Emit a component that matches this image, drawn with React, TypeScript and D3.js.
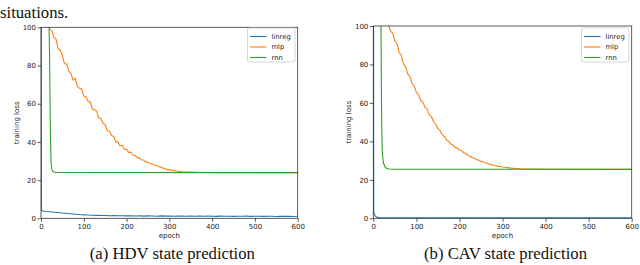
import React, { useEffect, useRef } from 'react';
import * as d3 from 'd3';

// ---- data (epoch, training loss) ----
const seriesNames = ['linreg', 'mlp', 'rnn'];
const seriesColors = ['#1f77b4', '#ff7f0e', '#2ca02c'];
const xTicks = [0, 100, 200, 300, 400, 500, 600];
const yTicks = [0, 20, 40, 60, 80, 100];

// (a) HDV
const hdvLinreg: [number, number][] = [
  [0, 260], [1, 4.3], [3, 3.9], [5, 3.8], [10, 3.6], [20, 3.4], [30, 3.2], [40, 3.0], [50, 2.75],
  [60, 2.55], [70, 2.35], [80, 2.15], [90, 1.95], [100, 1.8], [110, 1.75], [120, 1.6], [130, 1.55],
  [140, 1.45], [150, 1.5], [160, 1.35], [170, 1.4], [180, 1.3], [190, 1.35], [200, 1.25], [210, 1.3],
  [220, 1.2], [230, 1.3], [240, 1.15], [250, 1.25], [260, 1.2], [270, 1.1], [280, 1.25], [290, 1.15],
  [300, 1.2], [310, 1.1], [320, 1.2], [330, 1.15], [340, 1.05], [350, 1.2], [360, 1.1], [370, 1.15],
  [380, 1.05], [390, 1.15], [400, 1.1], [410, 1.0], [420, 1.15], [430, 1.05], [440, 1.1], [450, 1.0],
  [460, 1.1], [470, 1.05], [480, 1.15], [490, 1.0], [500, 1.1], [510, 1.05], [520, 1.0], [530, 1.1],
  [540, 1.05], [550, 0.95], [560, 1.1], [570, 1.0], [580, 1.05], [590, 0.95], [600, 1.05],
];
const hdvMlp: [number, number][] = [
  [15, 103.5], [20, 99.2], [25, 98.4], [30, 94.7], [35, 93.9], [40, 88.8], [45, 88.0], [50, 85.2],
  [55, 80.9], [60, 80.8], [65, 76.9], [70, 75.9], [75, 72.3], [80, 73.4], [85, 69.1], [90, 68.1],
  [95, 67.7], [100, 63.9], [105, 63.8], [110, 61.2], [115, 61.1], [120, 57.1], [125, 56.9], [130, 56.0],
  [135, 52.5], [140, 52.2], [145, 49.6], [150, 49.1], [155, 45.8], [160, 45.7], [165, 43.3], [170, 42.8],
  [175, 39.9], [180, 40.0], [185, 37.9], [190, 38.2], [195, 36.2], [200, 36.1], [205, 34.5], [210, 34.6],
  [215, 33.0], [220, 32.9], [225, 31.6], [230, 31.7], [235, 30.5], [240, 30.5], [245, 29.4], [250, 29.4],
  [255, 28.6], [260, 28.5], [265, 27.8], [270, 27.7], [275, 27.0], [280, 26.8], [285, 26.3], [290, 26.0],
  [295, 25.6], [300, 25.35], [310, 24.95], [320, 24.65], [330, 24.4], [340, 24.25], [350, 24.15],
  [365, 24.05], [380, 24.0], [420, 23.9], [600, 23.9],
];
const hdvRnn: [number, number][] = [
  [0, 300], [17, 125], [18, 110], [19, 100], [20, 85], [21, 65], [22, 45], [23, 33], [24, 28], [25, 26],
  [27, 24.8], [30, 24.2], [35, 24.0], [60, 23.95], [600, 23.9],
];

// (b) CAV
const cavLinreg: [number, number][] = [
  [0, 260], [1, 3.8], [2, 2.6], [3, 1.9], [4, 1.4], [6, 0.9], [8, 0.6], [11, 0.45], [15, 0.35],
  [25, 0.3], [100, 0.3], [200, 0.28], [300, 0.27], [400, 0.26], [500, 0.25], [600, 0.25],
];
const cavMlp: [number, number][] = [
  [33, 101.5], [35, 100.6], [40, 97.5], [45, 96.2], [50, 92.4], [55, 90.8], [60, 86.2], [65, 84.9],
  [70, 80.3], [75, 78.9], [80, 75.0], [85, 73.8], [90, 70.1], [95, 68.7], [100, 65.6], [105, 64.4],
  [110, 61.4], [115, 60.5], [120, 57.7], [125, 56.9], [130, 53.8], [135, 52.9], [140, 50.1], [145, 49.0],
  [150, 46.6], [155, 45.7], [160, 43.5], [165, 42.6], [170, 40.7], [175, 40.1], [180, 38.6], [185, 38.1],
  [190, 36.9], [195, 36.5], [200, 35.5], [205, 35.1], [210, 34.1], [215, 33.7], [220, 32.7], [225, 32.3],
  [230, 31.5], [235, 31.2], [240, 30.5], [245, 30.2], [250, 29.6], [255, 29.4], [260, 28.8], [265, 28.6],
  [270, 28.1], [275, 27.9], [280, 27.5], [285, 27.3], [290, 27.0], [295, 26.9], [300, 26.7], [310, 26.4],
  [320, 26.1], [330, 25.9], [340, 25.75], [350, 25.65], [360, 25.6], [380, 25.55], [400, 25.5], [600, 25.5],
];
const cavRnn: [number, number][] = [
  [0, 300], [16, 130], [17, 110], [18, 95], [19, 60], [20, 42], [21, 35], [22, 31.5], [24, 28.5],
  [27, 26.8], [31, 26.0], [36, 25.6], [50, 25.5], [600, 25.45],
];

const panels = [
  { id: 'hdv', caption: '(a) HDV state prediction', series: [hdvLinreg, hdvMlp, hdvRnn],
    left: 41, right: 297.7, top: 27.3, legendX: 247.5 },
  { id: 'cav', caption: '(b) CAV state prediction', series: [cavLinreg, cavMlp, cavRnn],
    left: 373.3, right: 631.7, top: 26, legendX: 581.5 },
];

const W = 640;
const H = 265;
const bottom = 218.3;
const sans = 'DejaVu Sans, sans-serif';
const serif = 'Liberation Serif, Times New Roman, serif';

const App = () => {
  const svgRef = useRef<SVGSVGElement>(null);

  useEffect(() => {
    const svg = d3.select(svgRef.current);
    svg.selectAll('*').remove();

    // sentence fragment above the figure
    svg.append('text')
      .attr('x', 0)
      .attr('y', 18)
      .attr('font-family', serif)
      .attr('font-size', 16.7)
      .attr('fill', '#111')
      .text('situations.');

    panels.forEach(p => {
      const x = d3.scaleLinear().domain([0, 600]).range([p.left, p.right]);
      const y = d3.scaleLinear().domain([0, 100]).range([bottom, p.top]);
      const g = svg.append('g');

      // clip slightly wider than the frame so lines at epoch 0 stay visible
      g.append('clipPath')
        .attr('id', `clip-${p.id}`)
        .append('rect')
        .attr('x', p.left - 0.6)
        .attr('y', p.top)
        .attr('width', p.right - p.left + 0.6)
        .attr('height', bottom - p.top + 0.6);

      const line = d3.line<[number, number]>()
        .x(d => x(d[0]))
        .y(d => y(d[1]));

      g.append('g')
        .attr('clip-path', `url(#clip-${p.id})`)
        .selectAll('path')
        .data(p.series)
        .enter()
        .append('path')
        .attr('d', d => line(d))
        .attr('fill', 'none')
        .attr('stroke', (_, i) => seriesColors[i])
        .attr('stroke-width', 1.1)
        .attr('stroke-linejoin', 'round');

      // frame
      g.append('rect')
        .attr('x', p.left)
        .attr('y', p.top)
        .attr('width', p.right - p.left)
        .attr('height', bottom - p.top)
        .attr('fill', 'none')
        .attr('stroke', '#333')
        .attr('stroke-width', 0.8);

      // axes
      const xAxis = d3.axisBottom(x).tickValues(xTicks).tickSize(3.5).tickPadding(2);
      const yAxis = d3.axisLeft(y).tickValues(yTicks).tickSize(3.5).tickPadding(1.5);
      [
        g.append('g').attr('transform', `translate(0,${bottom})`).call(xAxis),
        g.append('g').attr('transform', `translate(${p.left},0)`).call(yAxis),
      ].forEach(a => {
        a.select('.domain').remove();
        a.selectAll('line').attr('stroke', '#333').attr('stroke-width', 0.8);
        a.selectAll('text').attr('font-family', sans).attr('font-size', 7).attr('fill', '#222');
      });

      g.append('text')
        .attr('x', (p.left + p.right) / 2)
        .attr('y', 238)
        .attr('text-anchor', 'middle')
        .attr('font-family', sans)
        .attr('font-size', 7)
        .attr('fill', '#222')
        .text('epoch');

      g.append('text')
        .attr('transform', `translate(${p.left - 22.5},${(p.top + bottom) / 2}) rotate(-90)`)
        .attr('text-anchor', 'middle')
        .attr('font-family', sans)
        .attr('font-size', 7)
        .attr('fill', '#222')
        .text('training loss');

      // legend
      const legend = g.append('g').attr('transform', `translate(${p.legendX},28)`);
      legend.append('rect')
        .attr('width', 47.5)
        .attr('height', 34)
        .attr('rx', 2)
        .attr('fill', 'white')
        .attr('fill-opacity', 0.8)
        .attr('stroke', '#ccc')
        .attr('stroke-width', 0.8);
      seriesNames.forEach((name, i) => {
        const ly = 8.5 + i * 10.5;
        legend.append('line')
          .attr('x1', 2.5)
          .attr('x2', 19)
          .attr('y1', ly)
          .attr('y2', ly)
          .attr('stroke', seriesColors[i])
          .attr('stroke-width', 1.1);
        legend.append('text')
          .attr('x', 24)
          .attr('y', ly + 2.4)
          .attr('font-family', sans)
          .attr('font-size', 6.8)
          .attr('fill', '#222')
          .text(name);
      });

      svg.append('text')
        .attr('x', (p.left + p.right) / 2 + 3)
        .attr('y', 259)
        .attr('text-anchor', 'middle')
        .attr('font-family', serif)
        .attr('font-size', 16.7)
        .attr('fill', '#111')
        .text(p.caption);
    });
  }, []);

  return (
    <svg ref={svgRef} width={W} height={H}
      style={{ position: 'absolute', left: 0, top: 0, background: 'white' }} />
  );
};

export default App;
